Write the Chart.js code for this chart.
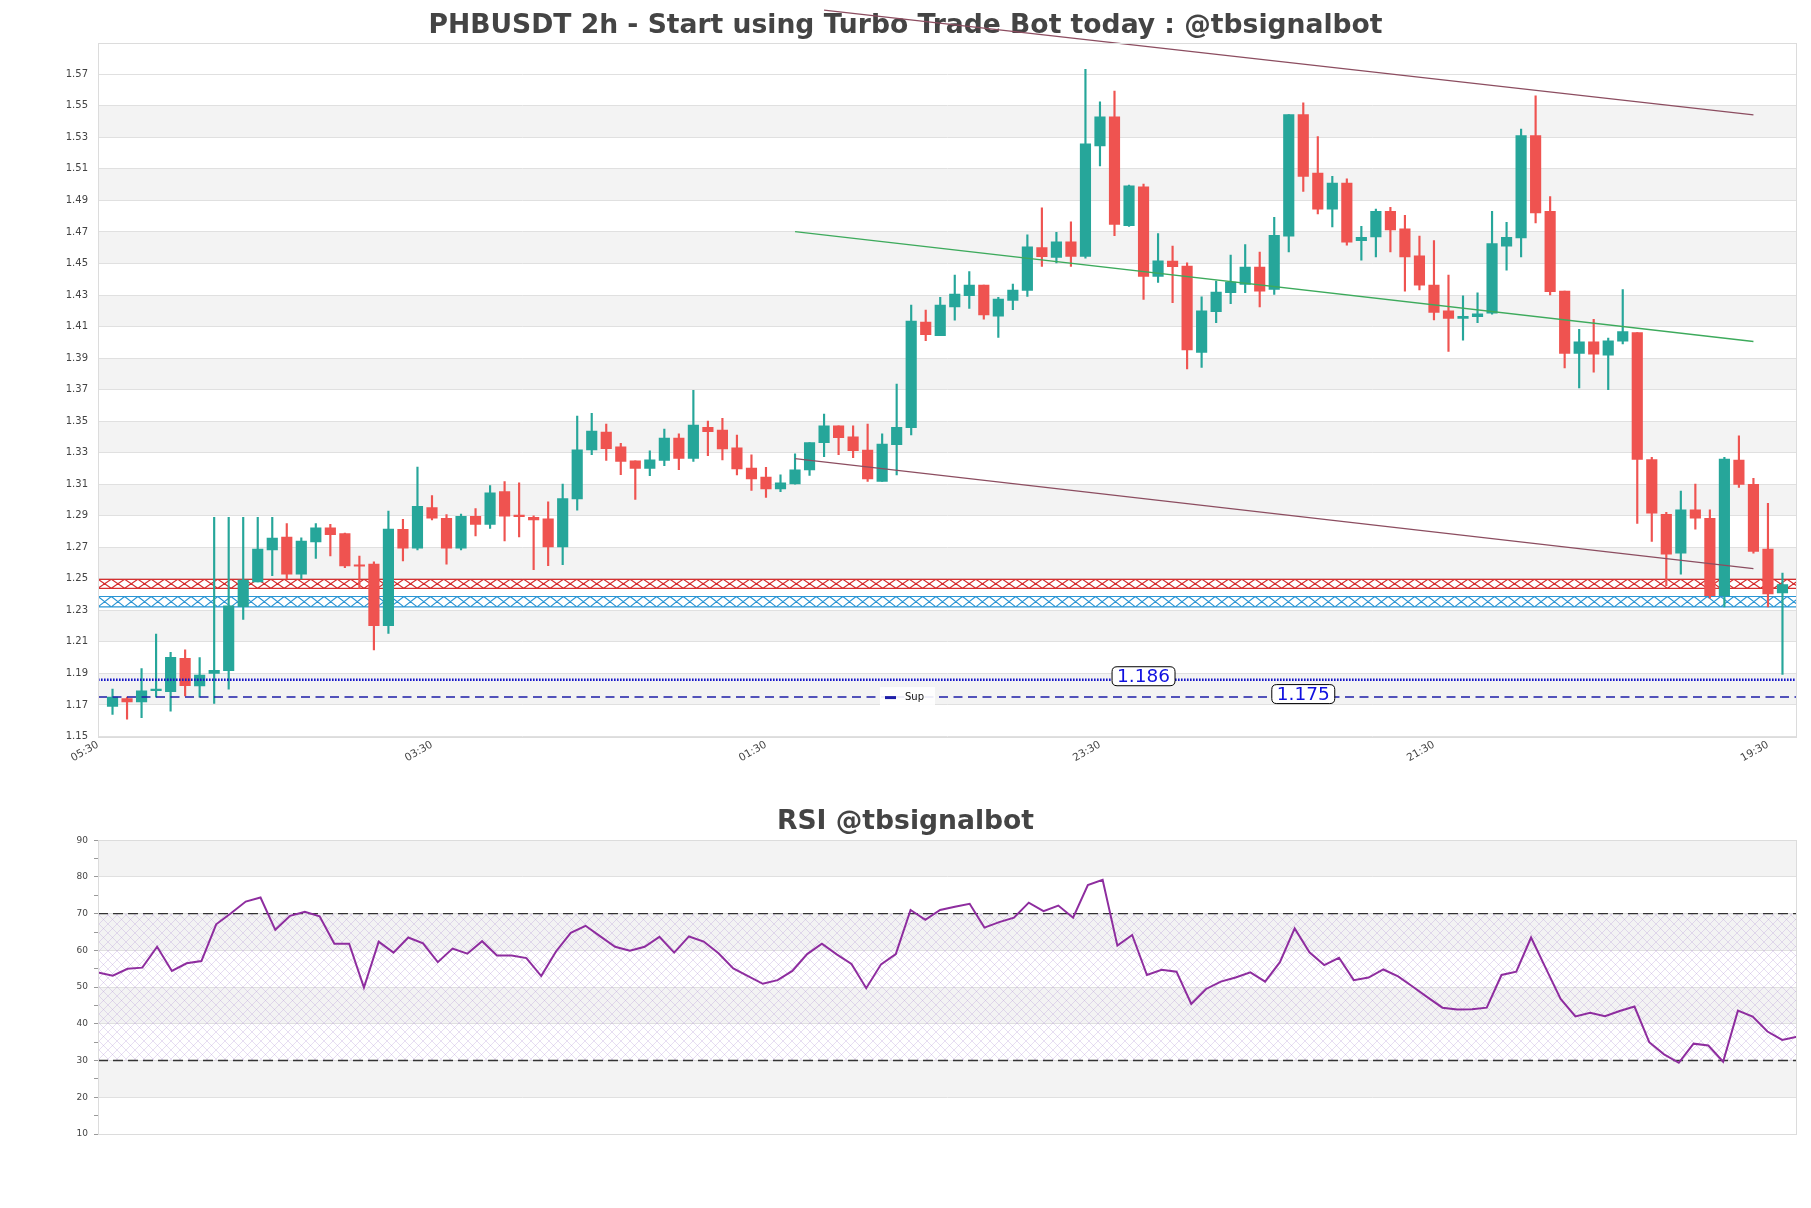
<!DOCTYPE html>
<html><head><meta charset="utf-8">
<script src="https://cdn.jsdelivr.net/npm/chart.js@4.4.1/dist/chart.umd.min.js"></script>
<style>
html,body{margin:0;padding:0;background:#fff;}
#w1{position:absolute;left:0;top:0;width:1811px;height:780px;}
#w2{position:absolute;left:0;top:780px;width:1811px;height:428px;}
</style></head><body>
<div id="w1"><canvas id="c1"></canvas></div>
<div id="w2"><canvas id="c2"></canvas></div>
<script>
// ---------- DATA ----------
const opens  = [1.169,1.174,1.172,1.179,1.1785,1.1996,1.182,1.190,1.1918,1.2323,1.248,1.2684,1.2764,1.253,1.2734,1.2823,1.2787,1.2587,1.2593,1.2203,
1.2814,1.2694,1.2952,1.2883,1.2694,1.2896,1.2845,1.3053,1.2898,1.289,1.2881,1.2703,1.3007,1.3318,1.3431,1.3337,1.3248,1.320,1.3251,1.3393,
1.3263,1.3461,1.3444,1.333,1.3203,1.3146,1.307,1.3102,1.3191,1.3364,1.347,1.34,1.3317,1.3117,1.3351,1.3459,1.4128,1.4042,1.4225,1.4296,
1.4363,1.4165,1.4266,1.4329,1.46,1.4538,1.4638,1.4545,1.5246,1.543,1.4739,1.4986,1.4418,1.4515,1.4483,1.3936,1.4195,1.4315,1.4367,1.4477,
1.4336,1.4673,1.5445,1.5073,1.4845,1.501,1.4645,1.4668,1.4831,1.4719,1.4549,1.4363,1.4199,1.4151,1.4163,1.4184,1.461,1.4662,1.5311,1.4831,
1.4325,1.393,1.4003,1.3919,1.4007,1.4062,1.3257,1.2909,1.2663,1.2937,1.2884,1.2393,1.3253,1.3099,1.2688,1.241];
const highs  = [1.180,1.175,1.193,1.215,1.2034,1.2049,1.200,1.289,1.289,1.289,1.289,1.289,1.285,1.276,1.285,1.2846,1.279,1.2644,1.2608,1.293,
1.2877,1.3209,1.3028,1.2908,1.291,1.2946,1.3091,1.3116,1.3108,1.29,1.2988,1.3101,1.3532,1.3549,1.3482,1.336,1.3248,1.3312,1.345,1.3419,
1.3696,1.350,1.3518,1.3412,1.3286,1.3207,1.3159,1.3292,1.3364,1.3545,1.347,1.347,1.3482,1.3419,1.3735,1.4236,1.4204,1.4285,1.4426,1.4448,
1.4363,1.4285,1.4369,1.4682,1.4853,1.4697,1.4764,1.5732,1.5525,1.5594,1.4997,1.5003,1.469,1.461,1.4504,1.4288,1.4389,1.4553,1.462,1.4572,
1.4793,1.5445,1.5519,1.5304,1.5052,1.5037,1.4736,1.4845,1.4856,1.4805,1.4673,1.4645,1.4426,1.4294,1.4313,1.4831,1.4761,1.5353,1.5563,1.4925,
1.4325,1.4083,1.4146,1.4027,1.4334,1.4062,1.327,1.2922,1.3057,1.3101,1.2937,1.327,1.3407,1.3137,1.2979,1.2536];
const lows   = [1.164,1.161,1.162,1.175,1.166,1.1757,1.175,1.171,1.180,1.2243,1.248,1.252,1.250,1.250,1.263,1.2646,1.257,1.2439,1.2049,1.2154,
1.2614,1.2684,1.2873,1.2593,1.2684,1.2772,1.282,1.274,1.2765,1.2558,1.2583,1.2589,1.2936,1.3288,1.3251,1.316,1.3003,1.3154,1.3217,1.3192,
1.3244,1.3281,1.3254,1.3159,1.306,1.3017,1.3053,1.31,1.3155,1.3275,1.3288,1.3269,1.3117,1.3117,1.3159,1.3412,1.401,1.4042,1.4141,1.4215,
1.4146,1.4031,1.4207,1.4291,1.4481,1.4503,1.4481,1.4534,1.5119,1.4676,1.4735,1.4272,1.438,1.4252,1.3831,1.3841,1.4125,1.4245,1.4315,1.4224,
1.4304,1.4574,1.4957,1.4814,1.4732,1.4616,1.4521,1.4542,1.4574,1.4325,1.4332,1.4142,1.3942,1.4014,1.4125,1.4178,1.4458,1.4542,1.4757,1.43,
1.3837,1.371,1.381,1.37,1.399,1.2852,1.2737,1.2456,1.253,1.2815,1.2378,1.2322,1.308,1.2663,1.2322,1.1894];
const closes = [1.175,1.172,1.179,1.180,1.2002,1.1823,1.189,1.192,1.2329,1.2492,1.2688,1.2758,1.253,1.274,1.2823,1.278,1.2582,1.258,1.2203,1.2815,
1.2694,1.296,1.2885,1.2694,1.2896,1.2845,1.3045,1.2898,1.2894,1.2873,1.2703,1.3009,1.3318,1.3437,1.3326,1.3244,1.320,1.3255,1.3393,1.3263,
1.3475,1.3433,1.3324,1.3197,1.3134,1.307,1.3108,1.3191,1.3364,1.347,1.3395,1.3313,1.3134,1.3355,1.3461,1.4135,1.4048,1.4236,1.4306,1.4363,
1.4173,1.4274,1.4331,1.4606,1.4543,1.4638,1.4545,1.5259,1.543,1.4747,1.4992,1.4418,1.4517,1.4479,1.3951,1.4199,1.4319,1.4382,1.4477,1.4325,
1.4679,1.5445,1.5052,1.4845,1.501,1.4635,1.4666,1.4831,1.4713,1.4542,1.4363,1.4189,1.4151,1.4165,1.418,1.4626,1.4666,1.5311,1.482,1.4321,
1.393,1.4003,1.3925,1.401,1.4068,1.3257,1.2916,1.2657,1.2937,1.2884,1.2393,1.3259,1.3099,1.2673,1.2404,1.2463];
const rsiValues = [54.0,53.1,55.0,55.3,61.0,54.4,56.5,57.1,67.1,70.1,
73.3,74.4,65.6,69.4,70.5,69.3,61.8,61.8,49.9,62.4,
59.4,63.5,61.9,56.8,60.5,59.1,62.5,58.6,58.6,57.9,
53.0,59.7,64.8,66.7,63.8,61.0,59.9,61.0,63.7,59.4,
63.8,62.4,59.2,55.1,53.0,50.9,51.9,54.4,59.0,61.8,
58.9,56.3,49.7,56.2,59.0,71.0,68.3,71.0,71.9,72.7,
66.2,67.7,68.9,73.0,70.7,72.2,68.9,77.8,79.2,61.3,
64.2,53.3,54.7,54.2,45.4,49.5,51.5,52.6,54.0,51.5,
56.8,66.0,59.5,56.0,58.0,51.9,52.6,54.8,52.9,50.1,
47.2,44.4,43.9,44.0,44.4,53.3,54.2,63.5,55.1,46.8,
42.0,43.0,42.1,43.5,44.7,35.0,31.7,29.4,34.6,34.1,
29.7,43.6,42.0,37.9,35.6,36.5];
const xTickPositions = [-1,22,45,68,91,114];
const xTickLabels = ['05:30','03:30','01:30','23:30','21:30','19:30'];
const priceTicks = [1.15,1.17,1.19,1.21,1.23,1.25,1.27,1.29,1.31,1.33,1.35,1.37,1.39,1.41,1.43,1.45,1.47,1.49,1.51,1.53,1.55,1.57];
const priceRange = [1.15,1.59];
const rsiTicks = [10,20,30,40,50,60,70,80,90];
const rsiLevels = [30,70];
const resistanceZone = [1.2440,1.2497];
const supportZone = [1.2322,1.2388];
const dottedLevel = 1.186;
const supLevel = 1.175;
const trendUpper = [[49,1.6107],[113,1.5442]];
const trendLower = [[47,1.3262],[113,1.2565]];
const trendGreen = [[47,1.4702],[113,1.4005]];
const mainTitle = 'PHBUSDT 2h - Start using Turbo Trade Bot today : @tbsignalbot';
const rsiTitle = 'RSI @tbsignalbot';

// ---------- STYLE ----------
Chart.defaults.font.family = "'DejaVu Sans', sans-serif";
const UP = '#26a69a', DN = '#ef5350';
const candleColors = opens.map((o,i)=> closes[i] >= o ? UP : DN);

function makeHatch(color, size, lw){
  const c = document.createElement('canvas'); c.width = size; c.height = size;
  const g = c.getContext('2d'); g.strokeStyle = color; g.lineWidth = lw;
  g.beginPath(); g.moveTo(0,0); g.lineTo(size,size); g.moveTo(size,0); g.lineTo(0,size); g.stroke();
  return c;
}

const bandPlugin = {
  id: 'bands',
  beforeDraw(chart, args, opts){
    const {ctx, chartArea:a} = chart; const y = chart.scales.y; const t = opts.ticks;
    ctx.save(); ctx.fillStyle = '#f3f3f3';
    for (let k = 1; k + 1 < t.length; k += 2){
      const y1 = y.getPixelForValue(t[k+1]), y2 = y.getPixelForValue(t[k]);
      ctx.fillRect(a.left, y1, a.right - a.left, y2 - y1);
    }
    ctx.restore();
  },
  afterDraw(chart){
    const {ctx, chartArea:a} = chart;
    ctx.save(); ctx.strokeStyle = '#dcdcdc'; ctx.lineWidth = 1;
    ctx.strokeRect(Math.round(a.left)+0.5, Math.round(a.top)+0.5, Math.round(a.right-a.left)-1, Math.round(a.bottom-a.top));
    ctx.restore();
  }
};

function roundRect(ctx, x, y, w, h, r){
  ctx.beginPath(); ctx.moveTo(x+r,y); ctx.lineTo(x+w-r,y); ctx.quadraticCurveTo(x+w,y,x+w,y+r);
  ctx.lineTo(x+w,y+h-r); ctx.quadraticCurveTo(x+w,y+h,x+w-r,y+h); ctx.lineTo(x+r,y+h);
  ctx.quadraticCurveTo(x,y+h,x,y+h-r); ctx.lineTo(x,y+r); ctx.quadraticCurveTo(x,y,x+r,y); ctx.closePath();
}

const mainOverlay = {
  id: 'mainOverlay',
  beforeDatasetsDraw(chart){
    const {ctx, chartArea:a} = chart; const y = chart.scales.y;
    const zones = [[resistanceZone,'#d62f2f'],[supportZone,'#2b95d4']];
    ctx.save();
    ctx.beginPath(); ctx.rect(a.left, a.top, a.right-a.left, a.bottom-a.top); ctx.clip();
    zones.forEach(([z,col])=>{
      const y1 = y.getPixelForValue(z[1]), y2 = y.getPixelForValue(z[0]);
      ctx.strokeStyle = col; ctx.lineWidth = 1.2;
      ctx.beginPath();
      ctx.moveTo(a.left, y1); ctx.lineTo(a.right, y1);
      ctx.moveTo(a.left, y2); ctx.lineTo(a.right, y2);
      const step = 13.3;
      for (let x = a.left; x < a.right; x += step){
        ctx.moveTo(x, y1); ctx.lineTo(x+step, y2);
        ctx.moveTo(x, y2); ctx.lineTo(x+step, y1);
      }
      ctx.stroke();
    });
    ctx.restore();
  },
  afterDatasetsDraw(chart){
    const {ctx, chartArea:a} = chart; const y = chart.scales.y; const x = chart.scales.x;
    ctx.save();
    const yd = y.getPixelForValue(dottedLevel);
    ctx.strokeStyle = '#1414c8'; ctx.lineWidth = 2.5; ctx.setLineDash([1.6,1.4]);
    ctx.beginPath(); ctx.moveTo(a.left, yd); ctx.lineTo(a.right, yd); ctx.stroke();
    const ys = y.getPixelForValue(supLevel);
    ctx.strokeStyle = '#1e1ea8'; ctx.lineWidth = 1.5; ctx.setLineDash([9,5.5]);
    ctx.beginPath(); ctx.moveTo(a.left, ys); ctx.lineTo(a.right, ys); ctx.stroke();
    ctx.setLineDash([]);
    const lx = a.left + 782, ly = ys - 10;
    ctx.fillStyle = 'rgba(255,255,255,0.9)'; ctx.fillRect(lx, ly, 55, 20);
    ctx.strokeStyle = '#1e1ea8'; ctx.lineWidth = 3;
    ctx.beginPath(); ctx.moveTo(lx+5, ys+0.5); ctx.lineTo(lx+16, ys+0.5); ctx.stroke();
    ctx.fillStyle = '#111'; ctx.font = "10px 'DejaVu Sans'"; ctx.textBaseline = 'middle'; ctx.textAlign = 'left';
    ctx.fillText('Sup', lx + 25, ys);
    const labels = [[dottedLevel, 71, yd - 3.5],[supLevel, 82, ys - 3]];
    ctx.font = "18.5px 'DejaVu Sans'"; ctx.textAlign = 'center'; ctx.textBaseline = 'middle';
    labels.forEach(([v, xi, cy])=>{
      const cx = x.getPixelForValue(xi);
      const txt = v.toFixed(3);
      const w = ctx.measureText(txt).width + 10, h = 19;
      roundRect(ctx, cx - w/2, cy - h/2, w, h, 5);
      ctx.fillStyle = '#fff'; ctx.fill();
      ctx.strokeStyle = '#000'; ctx.lineWidth = 1; ctx.stroke();
      ctx.fillStyle = '#1010e0'; ctx.fillText(txt, cx, cy + 1);
    });
    ctx.restore();
  }
};

const rsiOverlay = {
  id: 'rsiOverlay',
  beforeDatasetsDraw(chart){
    const {ctx, chartArea:a} = chart; const y = chart.scales.y;
    const yt = y.getPixelForValue(rsiLevels[1]), yb = y.getPixelForValue(rsiLevels[0]);
    ctx.save();
    ctx.fillStyle = ctx.createPattern(makeHatch('rgba(180,150,215,0.45)', 9, 0.7), 'repeat');
    ctx.fillRect(a.left, yt, a.right - a.left, yb - yt);
    ctx.strokeStyle = '#333'; ctx.lineWidth = 1.4; ctx.setLineDash([10,5]);
    [yt, yb].forEach(v=>{ ctx.beginPath(); ctx.moveTo(a.left, v); ctx.lineTo(a.right, v); ctx.stroke(); });
    ctx.restore();
  }
};

// ---------- MAIN CHART ----------
new Chart(document.getElementById('c1'), {
  data: {
    datasets: [
      { type:'bar', data: opens.map((o,i)=>({x:i, y:[lows[i], highs[i]]})), backgroundColor: candleColors,
        barThickness: 1.5, grouped: false, order: 3 },
      { type:'bar', data: opens.map((o,i)=>({x:i, y:[o, closes[i]]})), backgroundColor: candleColors,
        barThickness: 10.5, grouped: false, minBarLength: 1.5, order: 2 },
      { type:'line', data: trendUpper.map(p=>({x:p[0], y:p[1]})), borderColor:'#8c4d60', borderWidth:1.3, pointRadius:0, clip:false, order:1 },
      { type:'line', data: trendLower.map(p=>({x:p[0], y:p[1]})), borderColor:'#8c4d60', borderWidth:1.3, pointRadius:0, clip:false, order:1 },
      { type:'line', data: trendGreen.map(p=>({x:p[0], y:p[1]})), borderColor:'#3daa5c', borderWidth:1.3, pointRadius:0, clip:false, order:1 }
    ]
  },
  options: {
    responsive: true, maintainAspectRatio: false, animation: false, devicePixelRatio: 1,
    layout: { padding: { left: 14, right: 14, top: 0, bottom: 0 } },
    plugins: {
      legend: { display: false }, tooltip: { enabled: false },
      title: { display: true, text: mainTitle, color: '#444', font: { size: 26.6, weight: 'bold' }, padding: { top: 9.7, bottom: 1.1 } },
      bands: { ticks: priceTicks }
    },
    scales: {
      x: { type: 'linear', min: xTickPositions[0], max: 116, offset: false,
        afterBuildTicks: s => { s.ticks = xTickPositions.map(v=>({value:v})); },
        afterFit: s => { s.height = 43.5; },
        ticks: { autoSkip: false, minRotation: 30, maxRotation: 30, color: '#444', font: { size: 10.5 }, padding: 2,
          callback: (v, i) => xTickLabels[i] },
        grid: { display: false, drawTicks: false }, border: { display: false } },
      y: { min: priceRange[0], max: priceRange[1],
        afterBuildTicks: s => { s.ticks = priceTicks.map(v=>({value:v})); },
        afterFit: s => { s.width = 84; },
        ticks: { color: '#444', font: { size: 10 }, padding: 10, callback: (v, i) => priceTicks[i].toFixed(2) },
        grid: { color: '#e0e0e0', drawTicks: false }, border: { display: false } }
    }
  },
  plugins: [bandPlugin, mainOverlay]
});

// ---------- RSI CHART ----------
const rsiMinor = [];
for (let v = rsiTicks[0]; v <= rsiTicks[rsiTicks.length-1]; v += 5) rsiMinor.push(v);
new Chart(document.getElementById('c2'), {
  type: 'line',
  data: { datasets: [ { data: rsiValues.map((v,i)=>({x:i, y:v})), borderColor: '#8e2d9f', borderWidth: 2, pointRadius: 0, tension: 0 } ] },
  options: {
    responsive: true, maintainAspectRatio: false, animation: false, devicePixelRatio: 1,
    layout: { padding: { left: 14, right: 14, top: 0, bottom: 74 } },
    plugins: {
      legend: { display: false }, tooltip: { enabled: false },
      title: { display: true, text: rsiTitle, color: '#444', font: { size: 26.6, weight: 'bold' }, padding: { top: 26.4, bottom: 1.9 } },
      bands: { ticks: rsiTicks }
    },
    scales: {
      x: { type: 'linear', min: 0, max: rsiValues.length - 1, display: false },
      y: { min: rsiTicks[0], max: rsiTicks[rsiTicks.length-1],
        afterBuildTicks: s => { s.ticks = rsiMinor.map(v=>({value:v})); },
        afterFit: s => { s.width = 84; },
        ticks: { color: '#444', font: { size: 9 }, padding: 6, autoSkip: false,
          callback: (v) => (v % 10 === 0 ? String(v) : '') },
        grid: { color: c => (c.tick && c.tick.value % 10 === 0 ? '#e0e0e0' : 'rgba(0,0,0,0)'),
          tickColor: '#999', tickLength: 4 },
        border: { display: false } }
    }
  },
  plugins: [bandPlugin, rsiOverlay]
});
</script>
</body></html>
